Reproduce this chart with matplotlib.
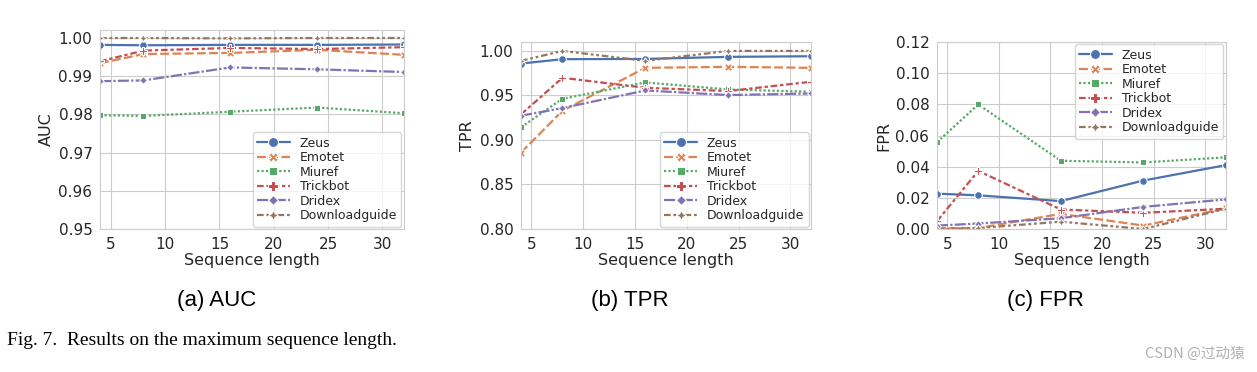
import numpy as np
import matplotlib
matplotlib.use("Agg")
import matplotlib.pyplot as plt
import seaborn as sns

# --- data ---
seq_len = [4, 8, 16, 24, 32]
families = ["Zeus", "Emotet", "Miuref", "Trickbot", "Dridex", "Downloadguide"]

auc_zeus = [0.9982, 0.9981, 0.9982, 0.9982, 0.9983]
auc_emotet = [0.9934, 0.9958, 0.9961, 0.9969, 0.9956]
auc_miuref = [0.9798, 0.9796, 0.9807, 0.9818, 0.9803]
auc_trickbot = [0.9939, 0.9967, 0.9974, 0.9971, 0.9976]
auc_dridex = [0.9887, 0.9889, 0.9923, 0.9918, 0.9911]
auc_download = [1.0000, 1.0000, 0.9999, 1.0000, 1.0000]

tpr_zeus = [0.9858, 0.9907, 0.9910, 0.9933, 0.9940]
tpr_emotet = [0.8858, 0.9328, 0.9810, 0.9821, 0.9810]
tpr_miuref = [0.9142, 0.9463, 0.9646, 0.9567, 0.9541]
tpr_trickbot = [0.9287, 0.9698, 0.9586, 0.9549, 0.9653]
tpr_dridex = [0.9272, 0.9358, 0.9556, 0.9504, 0.9522]
tpr_download = [0.9888, 1.0000, 0.9888, 1.0000, 1.0000]

fpr_zeus = [0.0227, 0.0216, 0.0179, 0.0311, 0.0410]
fpr_emotet = [0.0006, 0.0006, 0.0097, 0.0022, 0.0132]
fpr_miuref = [0.0557, 0.0799, 0.0438, 0.0427, 0.0460]
fpr_trickbot = [0.0050, 0.0373, 0.0125, 0.0104, 0.0130]
fpr_dridex = [0.0022, 0.0035, 0.0069, 0.0142, 0.0190]
fpr_download = [0.0000, 0.0006, 0.0047, 0.0000, 0.0130]

panels = [
    ("AUC", [auc_zeus, auc_emotet, auc_miuref, auc_trickbot, auc_dridex, auc_download],
     (0.95, 1.0021), [0.95, 0.96, 0.97, 0.98, 0.99, 1.00], "lower right", "(a) AUC"),
    ("TPR", [tpr_zeus, tpr_emotet, tpr_miuref, tpr_trickbot, tpr_dridex, tpr_download],
     (0.80, 1.01), [0.80, 0.85, 0.90, 0.95, 1.00], "lower right", "(b) TPR"),
    ("FPR", [fpr_zeus, fpr_emotet, fpr_miuref, fpr_trickbot, fpr_dridex, fpr_download],
     (0.0, 0.12), [0.00, 0.02, 0.04, 0.06, 0.08, 0.10, 0.12], "upper right", "(c) FPR"),
]

# --- style (seaborn lineplot defaults) ---
sns.set_style("whitegrid")
plt.rcParams['font.family'] = ['DejaVu Sans']
colors = sns.color_palette("deep")
markers = ["o", "X", (4, 0, 45), "P", (4, 0, 0), (4, 1, 0)]
dashes = [(None, None), (4, 1.5), (1, 1), (3, 1.25, 1.5, 1.25), (5, 1, 1, 1),
          (3, 1.25, 1.25, 1.25, 1.25, 1.25)]

fig = plt.figure(figsize=(12.57, 3.72), dpi=100)
axes_pos = [
    [0.0796, 0.3844, 0.2418, 0.5350],
    [0.4145, 0.3844, 0.2307, 0.5027],
    [0.7454, 0.3844, 0.2299, 0.5027],
]
cap_x = [0.1724, 0.501, 0.832]

for pos, (ylab, series, ylim, yt, loc, cap), cx in zip(axes_pos, panels, cap_x):
    ax = fig.add_axes(pos)
    for i, (name, vals) in enumerate(zip(families, series)):
        line, = ax.plot(seq_len, vals, color=colors[i], marker=markers[i], markersize=5.5,
                        markeredgecolor="white", markeredgewidth=0.75, lw=1.6, label=name)
        if dashes[i][0] is not None:
            line.set_dashes(dashes[i])
    ax.set_xlim(4, 32)
    ax.set_ylim(*ylim)
    ax.set_xticks([5, 10, 15, 20, 25, 30])
    ax.set_yticks(yt)
    ax.set_yticklabels(["%.2f" % v for v in yt])
    ax.tick_params(labelsize=11, pad=2, colors="#262626")
    ax.set_xlabel("Sequence length", fontsize=11.5, labelpad=1, color="#262626")
    ax.set_ylabel(ylab, fontsize=11.5, labelpad=3, color="#262626")
    for s in ax.spines.values():
        s.set_color("#cccccc")
    leg = ax.legend(loc=loc, fontsize=9, handlelength=2.6, labelspacing=0.12,
                    borderpad=0.35, handletextpad=0.8, borderaxespad=0.2,
                    markerscale=1.3, framealpha=0.8)
    leg.get_frame().set_edgecolor("#cccccc")
    fig.text(cx, 0.1917, cap, ha="center", va="center", fontsize=16,
             family="Liberation Sans", color="black")

fig.text(0.0056, 0.086, "Fig. 7.  Results on the maximum sequence length.", ha="left",
         va="center", fontsize=14, family="Liberation Serif", color="black")
fig.text(0.99, 0.048, "CSDN @过动猿", ha="right", va="center", fontsize=10.5,
         color="#b0b0b0", family=["Noto Sans CJK SC", "DejaVu Sans"])

fig.savefig("out.png", dpi=100)
